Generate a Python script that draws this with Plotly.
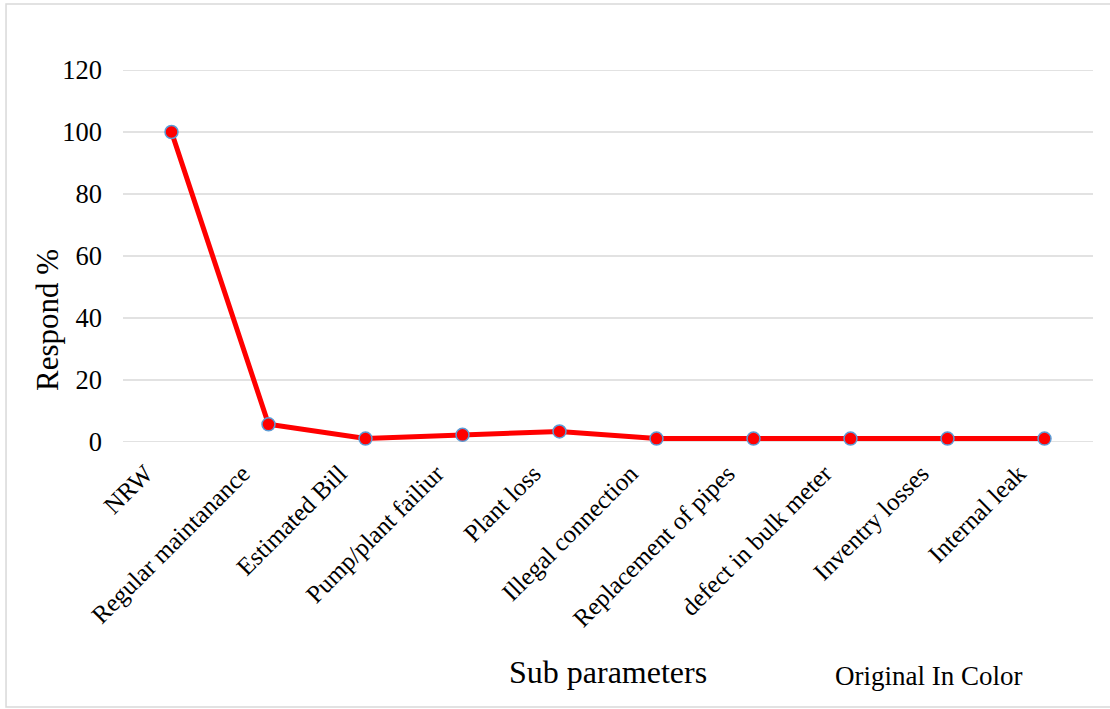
import plotly.graph_objects as go

# Survey response per sub parameter (%)
categories = [
    "NRW", "Regular maintanance", "Estimated Bill", "Pump/plant failiur",
    "Plant loss", "Illegal connection", "Replacement of pipes",
    "defect in bulk meter", "Inventry losses", "Internal leak",
]
respond_pct = [100, 5.7, 1.1, 2.3, 3.4, 1.1, 1.1, 1.1, 1.1, 1.1]
y_ticks = [0, 20, 40, 60, 80, 100, 120]

SERIF = "Liberation Serif, Times New Roman, serif"
GRID = "#d9d9d9"

fig = go.Figure()
fig.add_trace(go.Scatter(
    x=categories,
    y=respond_pct,
    mode="lines+markers",
    line=dict(color="#ff0000", width=5),
    marker=dict(size=13, color="#ff0000", line=dict(color="#5b9bd5", width=1.5)),
    showlegend=False,
    cliponaxis=False,
))

# gridlines drawn as shapes so the edge values (0 and 120) show as well
grid_shapes = [
    dict(type="line", xref="paper", yref="y", x0=0, x1=1, y0=v, y1=v,
         line=dict(color=GRID, width=1.5), layer="below")
    for v in y_ticks
]

fig.update_layout(
    width=1110, height=709,
    margin=dict(l=123, r=17, t=70, b=267),
    paper_bgcolor="white", plot_bgcolor="white",
    font=dict(family=SERIF, color="black"),
    xaxis=dict(
        type="category", range=[-0.5, 9.5],
        showgrid=False, zeroline=False, showline=False,
        tickangle=-45, tickfont=dict(size=25, family=SERIF),
        ticks="", ticklabelstandoff=11, ticklabelshift=-26,
    ),
    yaxis=dict(
        range=[0, 120], tickvals=y_ticks,
        showgrid=False, zeroline=False, showline=False,
        tickfont=dict(size=26.5, family=SERIF),
        ticks="", ticklabelstandoff=20,
    ),
    shapes=[
        # light frame around the whole chart
        dict(type="rect", xref="paper", yref="paper",
             x0=-0.1206, x1=1.03, y0=-0.7124, y1=1.1774,
             line=dict(color=GRID, width=1.5), fillcolor="rgba(0,0,0,0)",
             layer="below"),
    ] + grid_shapes,
    annotations=[
        dict(text="Sub parameters", xref="paper", yref="paper",
             x=0.5, y=(442 - 672) / 372, xanchor="center", yanchor="middle",
             showarrow=False, font=dict(size=32, family=SERIF)),
        dict(text="Respond %", xref="paper", yref="paper",
             x=(47 - 123) / 970, y=(442 - 320) / 372, textangle=-90,
             xanchor="center", yanchor="middle",
             showarrow=False, font=dict(size=31, family=SERIF)),
        dict(text="Original In Color", xref="paper", yref="paper",
             x=(928 - 123) / 970, y=(442 - 676) / 372,
             xanchor="center", yanchor="middle",
             showarrow=False, font=dict(size=27, family=SERIF)),
    ],
)

fig.write_html("out.html")
